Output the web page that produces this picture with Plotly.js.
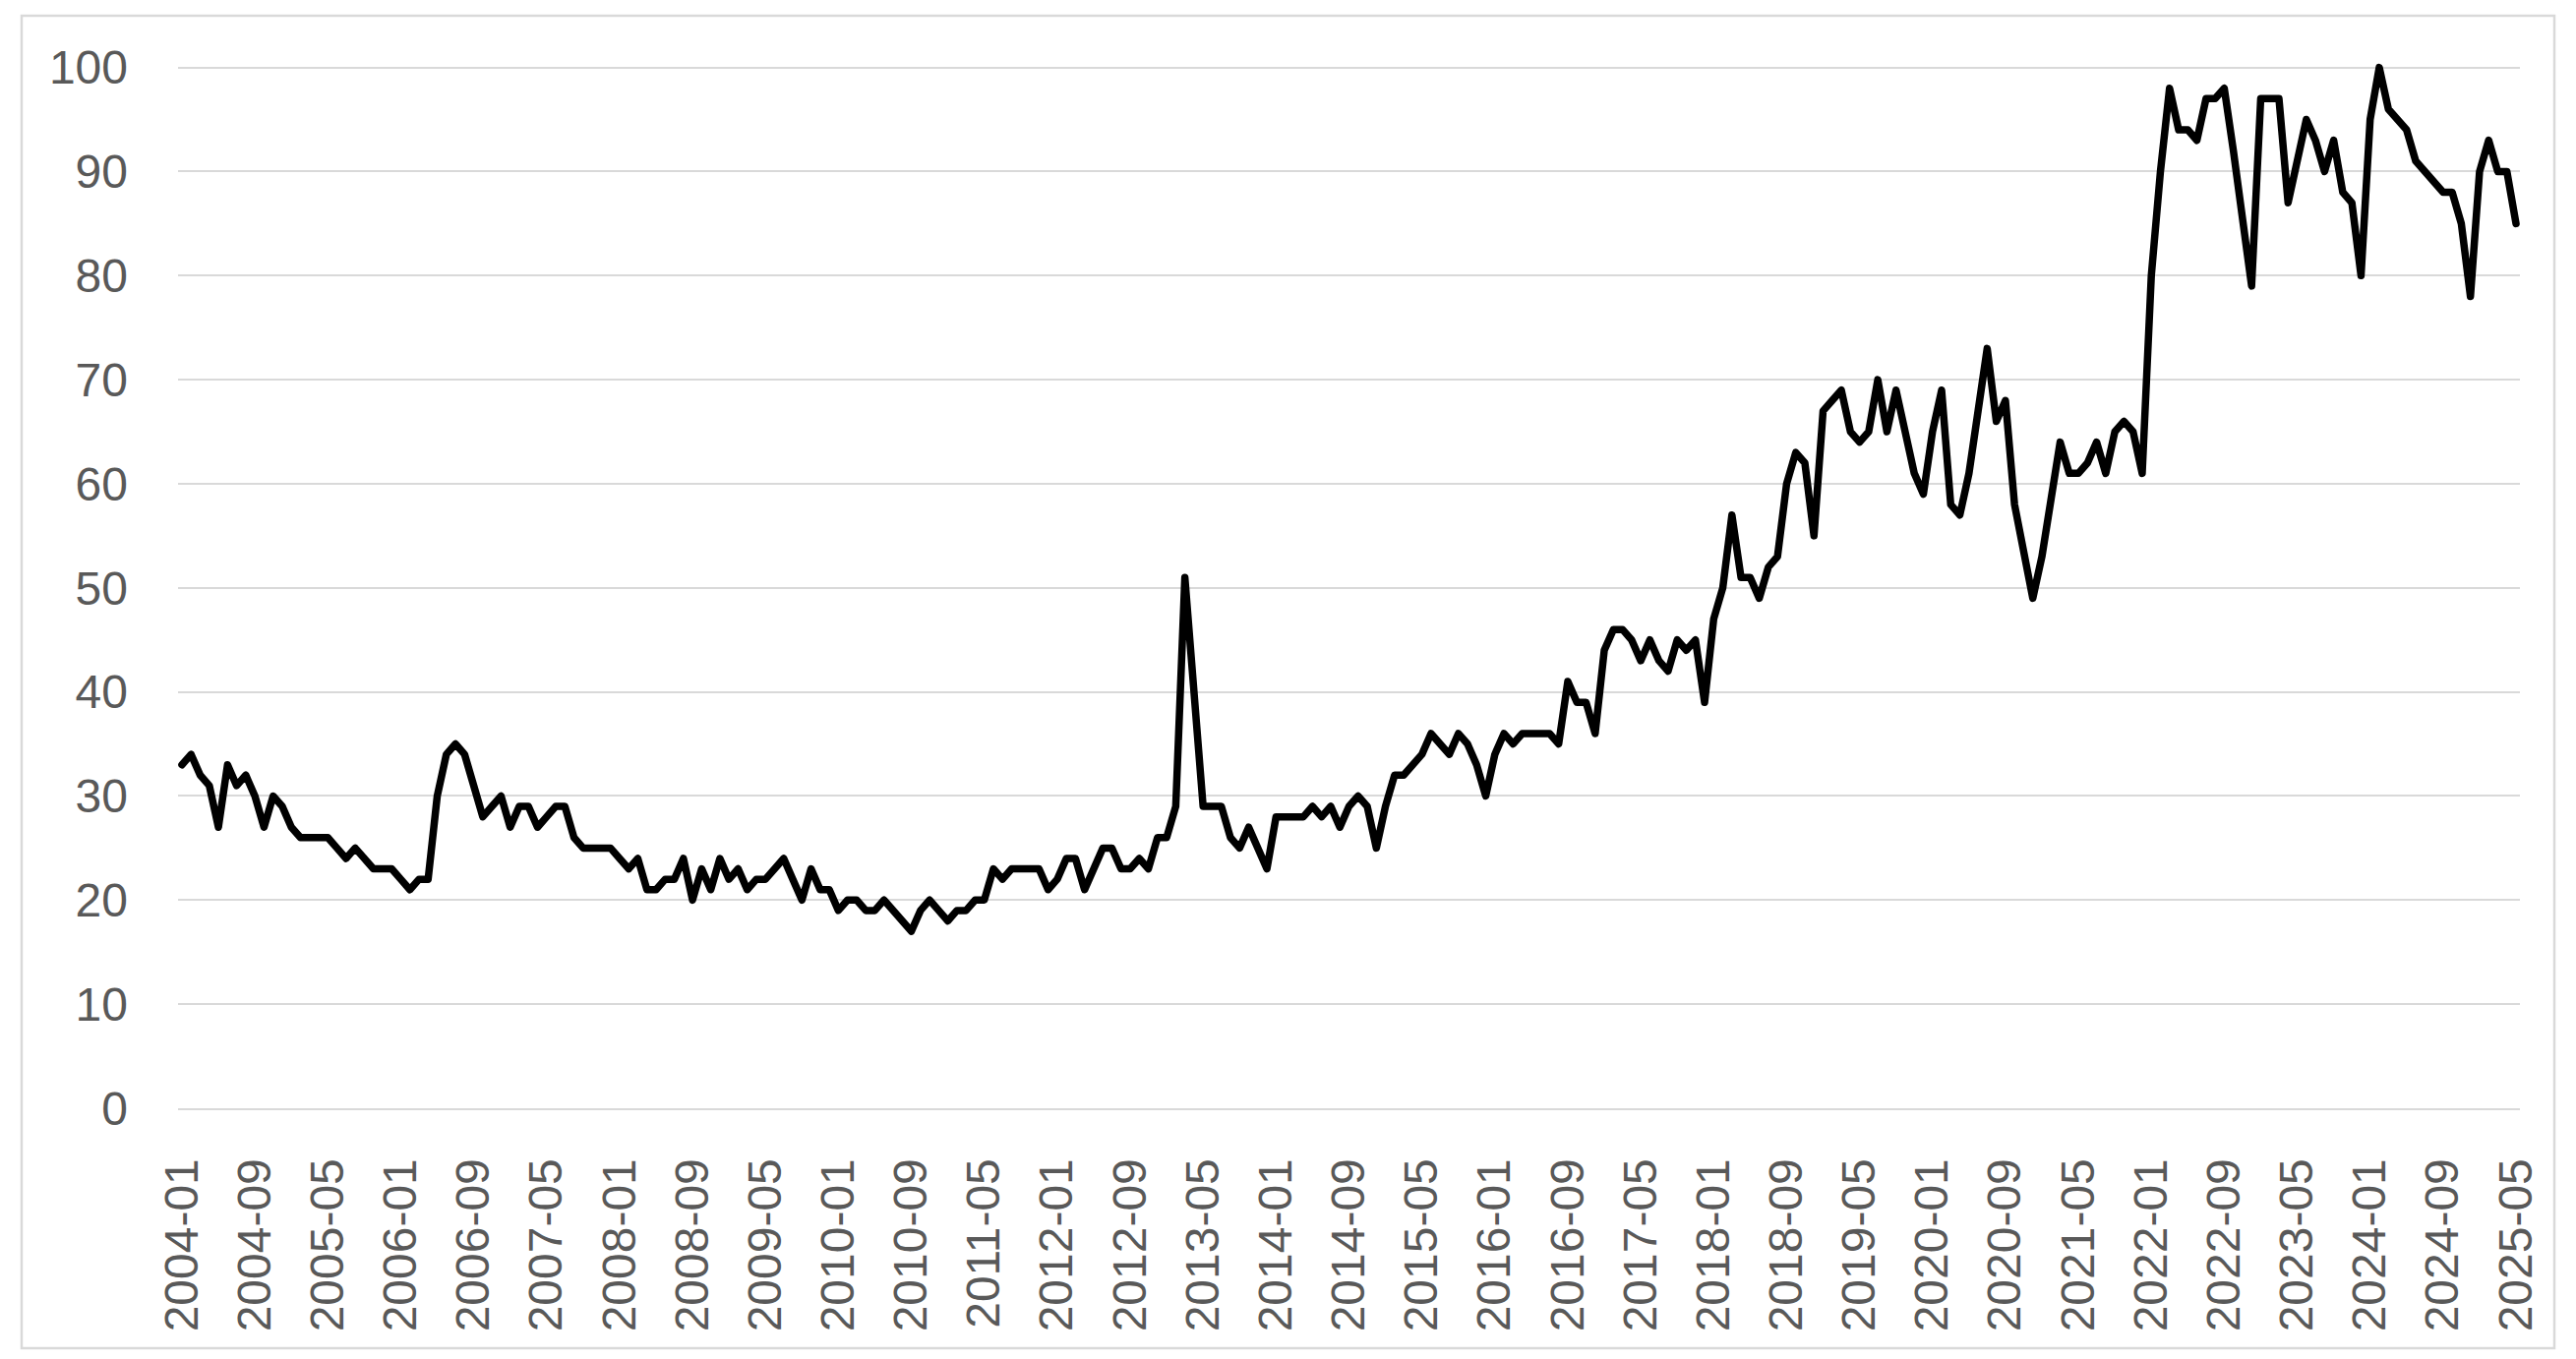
<!DOCTYPE html>
<html>
<head>
<meta charset="utf-8">
<script src="https://cdn.plot.ly/plotly-3.0.1.min.js"></script>
<style>
  html, body { margin: 0; padding: 0; background: #ffffff; }
  #chart { width: 2619px; height: 1382px; }
  /* Excel-like rounded corners on the series line */
  #chart path.js-line { stroke-linejoin: round; stroke-linecap: round; }
</style>
</head>
<body>
<div id="chart"></div>
<script>
// monthly values, starting 2004-01
const firstYear = 2004;

const values2004to2008 = [
  33, 34, 32, 31, 27, 33, 31, 32, 30, 27, 30, 29,
  27, 26, 26, 26, 26, 25, 24, 25, 24, 23, 23, 23,
  22, 21, 22, 22, 30, 34, 35, 34, 31, 28, 29, 30,
  27, 29, 29, 27, 28, 29, 29, 26, 25, 25, 25, 25,
  24, 23, 24, 21, 21, 22, 22, 24, 20, 23, 21, 24,
];

const values2009to2013 = [
  22, 23, 21, 22, 22, 23, 24, 22, 20, 23, 21, 21,
  19, 20, 20, 19, 19, 20, 19, 18, 17, 19, 20, 19,
  18, 19, 19, 20, 20, 23, 22, 23, 23, 23, 23, 21,
  22, 24, 24, 21, 23, 25, 25, 23, 23, 24, 23, 26,
  26, 29, 51, 40, 29, 29, 29, 26, 25, 27, 25, 23,
];

const values2014to2018 = [
  28, 28, 28, 28, 29, 28, 29, 27, 29, 30, 29, 25,
  29, 32, 32, 33, 34, 36, 35, 34, 36, 35, 33, 30,
  34, 36, 35, 36, 36, 36, 36, 35, 41, 39, 39, 36,
  44, 46, 46, 45, 43, 45, 43, 42, 45, 44, 45, 39,
  47, 50, 57, 51, 51, 49, 52, 53, 60, 63, 62, 55,
];

const values2019to2023 = [
  67, 68, 69, 65, 64, 65, 70, 65, 69, 65, 61, 59,
  65, 69, 58, 57, 61, 67, 73, 66, 68, 58, 53, 49,
  53, 58, 64, 61, 61, 62, 64, 61, 65, 66, 65, 61,
  80, 90, 98, 94, 94, 93, 97, 97, 98, 92, 85, 79,
  97, 97, 97, 87, 91, 95, 93, 90, 93, 88, 87, 80,
];

const values2024to2025 = [
  95, 100, 96, 95, 94, 91, 90, 89, 88, 88, 85, 78,
  90, 93, 90, 90, 85,
];

const tickLabels = [
  "2004-01", "2004-09", "2005-05", "2006-01", "2006-09", "2007-05", "2008-01",
  "2008-09", "2009-05", "2010-01", "2010-09", "2011-05", "2012-01", "2012-09",
  "2013-05", "2014-01", "2014-09", "2015-05", "2016-01", "2016-09", "2017-05",
  "2018-01", "2018-09", "2019-05", "2020-01", "2020-09", "2021-05", "2022-01",
  "2022-09", "2023-05", "2024-01", "2024-09", "2025-05",
];

const yTicks = [0, 10, 20, 30, 40, 50, 60, 70, 80, 90, 100];

const values = [].concat(
  values2004to2008, values2009to2013, values2014to2018,
  values2019to2023, values2024to2025
);

const months = values.map((v, i) => {
  const year = firstYear + Math.floor(i / 12);
  const month = (i % 12) + 1;
  return `${year}-${String(month).padStart(2, "0")}`;
});

// plot area in pixels, used to place the outer frame
const W = 2619, H = 1382;
const margin = { l: 181, r: 57, t: 58, b: 255 };
const plotW = W - margin.l - margin.r;
const plotH = H - margin.t - margin.b;
const px = (x) => (x - margin.l) / plotW;
const py = (y) => (H - margin.b - y) / plotH;

const gridColor = "#d9d9d9";
const labelFont = { family: "Liberation Sans, Arial, sans-serif", size: 48, color: "#595959" };

Plotly.newPlot(
  "chart",
  [
    {
      x: months,
      y: values,
      type: "scatter",
      mode: "lines",
      line: { color: "#000000", width: 7.5 },
      hoverinfo: "x+y",
    },
  ],
  {
    width: W,
    height: H,
    margin: margin,
    paper_bgcolor: "#ffffff",
    plot_bgcolor: "#ffffff",
    showlegend: false,
    xaxis: {
      type: "category",
      range: [-0.43, values.length - 1 + 0.43],
      tickmode: "array",
      tickvals: tickLabels,
      ticktext: tickLabels,
      tickangle: -90,
      tickfont: labelFont,
      ticks: "",
      ticklabelstandoff: 30,
      showgrid: false,
      showline: true,
      linecolor: gridColor,
      linewidth: 2,
      zeroline: false,
    },
    yaxis: {
      range: [0, 101],
      tickmode: "array",
      tickvals: yTicks,
      tickfont: labelFont,
      ticks: "",
      ticklabelstandoff: 50,
      showgrid: true,
      gridcolor: gridColor,
      gridwidth: 2,
      zeroline: false,
      showline: false,
    },
    shapes: [
      {
        type: "rect",
        xref: "paper",
        yref: "paper",
        x0: px(22),
        x1: px(2597),
        y0: py(1371),
        y1: py(16),
        line: { color: gridColor, width: 2.5 },
        layer: "below",
      },
    ],
  },
  { displayModeBar: false, staticPlot: true }
);
</script>
</body>
</html>
